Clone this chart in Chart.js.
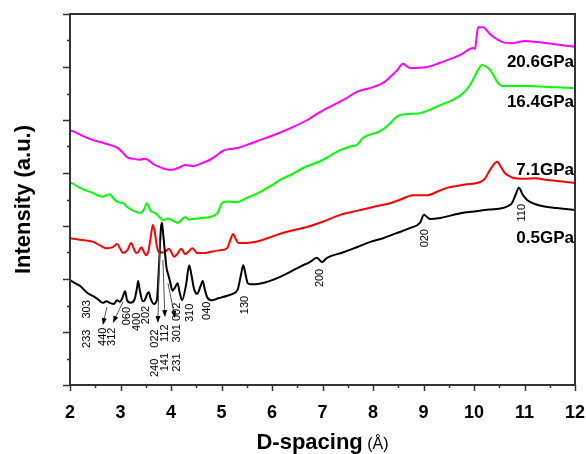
<!DOCTYPE html>
<html>
<head>
<meta charset="utf-8">
<script src="https://cdn.jsdelivr.net/npm/chart.js@4.4.0/dist/chart.umd.min.js"></script>
<style>
  html, body { margin: 0; padding: 0; background: #fff; }
  #wrap { width: 586px; height: 454px; }
</style>
</head>
<body>
<div id="wrap"><canvas id="xrd" width="586" height="454"></canvas></div>
<script>
// D-spacing (A) vs intensity (a.u., offset stacked)
const p05 = [[2.00,1.98],[2.10,1.92],[2.20,1.87],[2.34,1.74],[2.45,1.68],[2.55,1.62],[2.65,1.55],[2.72,1.58],[2.79,1.55],[2.87,1.53],
  [2.93,1.60],[2.99,1.57],[3.04,1.65],[3.09,1.77],[3.13,1.60],[3.20,1.55],[3.28,1.62],[3.33,1.85],[3.35,1.96],[3.38,1.80],
  [3.44,1.58],[3.48,1.60],[3.53,1.72],[3.56,1.75],[3.60,1.62],[3.66,1.53],[3.72,1.60],[3.76,2.20],[3.80,2.95],[3.82,3.06],
  [3.84,2.90],[3.87,2.60],[3.91,2.22],[3.94,2.10],[3.98,1.96],[4.03,1.78],[4.08,1.84],[4.13,1.92],[4.17,1.75],[4.22,1.60],
  [4.30,1.90],[4.36,2.26],[4.40,2.10],[4.46,1.80],[4.52,1.72],[4.58,1.85],[4.63,1.96],[4.67,1.80],[4.72,1.65],[4.80,1.60],
  [4.95,1.64],[5.10,1.68],[5.22,1.72],[5.32,1.80],[5.39,2.10],[5.43,2.26],[5.47,2.12],[5.52,1.92],[5.60,1.90],[5.75,1.91],
  [5.95,1.96],[6.16,2.04],[6.35,2.13],[6.55,2.23],[6.75,2.32],[6.89,2.40],[6.99,2.32],[7.09,2.40],[7.40,2.50],[7.68,2.60],
  [7.95,2.70],[8.20,2.77],[8.45,2.86],[8.73,2.96],[8.93,3.06],[9.01,3.21],[9.07,3.17],[9.13,3.13],[9.33,3.15],[9.55,3.20],
  [9.78,3.25],[10.05,3.28],[10.30,3.31],[10.57,3.34],[10.68,3.38],[10.75,3.43],[10.82,3.58],[10.89,3.72],[10.96,3.60],[11.05,3.49],
  [11.25,3.40],[11.45,3.36],[11.64,3.34],[11.82,3.32],[12.00,3.30]];

const p71 = [[2.00,2.77],[2.20,2.74],[2.46,2.70],[2.60,2.63],[2.73,2.58],[2.85,2.60],[2.93,2.66],[2.99,2.58],[3.05,2.49],[3.14,2.55],
  [3.21,2.68],[3.26,2.58],[3.31,2.49],[3.36,2.52],[3.41,2.60],[3.46,2.52],[3.50,2.45],[3.55,2.52],[3.60,2.80],[3.64,3.02],
  [3.68,2.88],[3.72,2.62],[3.76,2.51],[3.86,2.50],[3.96,2.57],[4.01,2.50],[4.06,2.42],[4.13,2.48],[4.20,2.57],[4.24,2.52],
  [4.28,2.47],[4.35,2.52],[4.42,2.58],[4.47,2.54],[4.51,2.49],[4.65,2.49],[4.77,2.51],[4.95,2.54],[5.11,2.58],[5.18,2.75],
  [5.23,2.85],[5.28,2.76],[5.33,2.68],[5.50,2.68],[5.76,2.72],[6.00,2.80],[6.30,2.89],[6.69,2.98],[7.00,3.08],[7.35,3.21],
  [7.70,3.29],[8.00,3.36],[8.34,3.43],[8.55,3.50],[8.79,3.58],[9.07,3.58],[9.30,3.66],[9.47,3.72],[9.80,3.78],[10.12,3.83],
  [10.22,3.90],[10.28,4.00],[10.38,4.15],[10.46,4.21],[10.53,4.12],[10.61,4.00],[10.70,3.94],[10.77,3.91],[11.00,3.89],[11.20,3.90],
  [11.45,3.87],[11.75,3.84],[12.00,3.81]];

const p164 = [[2.00,3.83],[2.20,3.72],[2.46,3.62],[2.65,3.55],[2.72,3.58],[2.79,3.60],[2.86,3.52],[2.95,3.45],[3.05,3.43],[3.13,3.36],
  [3.23,3.30],[3.39,3.25],[3.47,3.32],[3.52,3.43],[3.56,3.36],[3.60,3.28],[3.68,3.25],[3.76,3.18],[3.84,3.11],[3.93,3.14],
  [4.02,3.11],[4.08,3.08],[4.14,3.06],[4.21,3.12],[4.28,3.17],[4.36,3.12],[4.44,3.13],[4.60,3.15],[4.77,3.17],[4.93,3.26],
  [4.98,3.38],[5.03,3.45],[5.15,3.46],[5.31,3.45],[5.50,3.53],[5.76,3.64],[6.00,3.77],[6.16,3.87],[6.40,3.98],[6.61,4.09],
  [7.01,4.25],[7.35,4.43],[7.55,4.50],[7.68,4.53],[7.80,4.66],[8.14,4.79],[8.30,4.90],[8.40,5.00],[8.47,5.06],[8.53,5.09],
  [8.67,5.11],[8.93,5.13],[9.15,5.20],[9.33,5.28],[9.58,5.38],[9.78,5.50],[9.92,5.66],[10.00,5.80],[10.06,5.91],[10.16,6.04],
  [10.24,6.01],[10.32,5.94],[10.40,5.82],[10.46,5.72],[10.57,5.64],[10.80,5.64],[11.11,5.64],[11.30,5.63],[11.60,5.62],[12.00,5.60]];

const p206 = [[2.00,4.81],[2.10,4.77],[2.25,4.70],[2.46,4.62],[2.65,4.57],[2.79,4.53],[2.95,4.47],[3.05,4.38],[3.13,4.30],[3.25,4.27],
  [3.39,4.25],[3.46,4.27],[3.52,4.26],[3.65,4.17],[3.78,4.11],[3.90,4.07],[4.02,4.06],[4.15,4.10],[4.28,4.15],[4.44,4.13],
  [4.60,4.18],[4.77,4.25],[4.90,4.33],[5.03,4.42],[5.15,4.45],[5.31,4.47],[5.50,4.53],[5.76,4.62],[6.10,4.74],[6.42,4.87],
  [6.70,5.00],[6.95,5.15],[7.21,5.28],[7.45,5.40],[7.68,5.53],[8.00,5.62],[8.20,5.70],[8.34,5.81],[8.48,5.94],[8.59,6.06],
  [8.66,6.02],[8.73,5.98],[9.07,6.00],[9.30,6.07],[9.47,6.13],[9.75,6.24],[9.98,6.36],[10.02,6.34],[10.05,6.55],[10.08,6.75],
  [10.18,6.75],[10.28,6.66],[10.38,6.57],[10.57,6.47],[10.77,6.45],[11.01,6.49],[11.25,6.47],[11.60,6.43],[12.00,6.38]];

const seriesNames = ['0.5GPa', '7.1GPa', '16.4GPa', '20.6GPa'];
const seriesColors = ['#000000', '#ff0000', '#00ff00', '#ff00ff'];
// where each pressure label sits (right edge x, middle y)
const nameX = [11.98, 11.98, 11.98, 11.98];
const nameY = [2.77, 4.06, 5.34, 6.09];

// Miller index labels (rotated) and their anchor positions
const hklText = ['233 303', '440', '312', '060', '400', '202', '240 022', '141 112', '231 301', '002', '310', '040', '130', '200', '020', '110'];
const hklX    = [2.34, 2.65, 2.83, 3.13, 3.33, 3.50, 3.68, 3.88, 4.12, 4.12, 4.38, 4.71, 5.47, 6.95, 9.03, 10.95];
const hklY    = [1.15, 0.91, 0.91, 1.30, 1.19, 1.32, 0.60, 0.70, 0.70, 1.38, 1.36, 1.40, 1.51, 2.02, 2.77, 3.25];

// arrows: [fromX, fromY, toX, toY]
const arrows = [[2.73,1.47,2.65,1.13],[3.05,1.57,2.85,1.17],[3.78,2.74,3.74,1.17],[3.84,2.36,3.88,1.28],[3.94,1.92,4.08,1.26]];

const FONT = "'Liberation Sans', Arial, sans-serif";

const decor = {
  id: 'decor',
  afterDatasetsDraw(chart) {
    const { ctx, chartArea: a, scales: { x, y } } = chart;
    ctx.save();

    // frame
    ctx.strokeStyle = '#333';
    ctx.lineWidth = 2;
    ctx.strokeRect(a.left, a.top, a.right - a.left, a.bottom - a.top);

    // tick marks, long on whole numbers
    ctx.lineWidth = 1.5;
    ctx.beginPath();
    for (let v = 2; v <= 12.001; v += 0.5) {
      const px = Math.round(x.getPixelForValue(v)) + 0.5;
      const len = Number.isInteger(v) ? 6 : 3;
      ctx.moveTo(px, a.bottom);
      ctx.lineTo(px, a.bottom + len);
    }
    for (let v = 0; v <= 7.001; v += 0.5) {
      const py = Math.round(y.getPixelForValue(v)) + 0.5;
      const len = Number.isInteger(v) ? 7 : 3;
      ctx.moveTo(a.left, py);
      ctx.lineTo(a.left - len, py);
    }
    ctx.stroke();

    // arrows
    arrows.forEach(([x1, y1, x2, y2]) => {
      const ax = x.getPixelForValue(x1), ay = y.getPixelForValue(y1);
      const bx = x.getPixelForValue(x2), by = y.getPixelForValue(y2);
      const ang = Math.atan2(by - ay, bx - ax);
      ctx.strokeStyle = '#555';
      ctx.lineWidth = 1;
      ctx.beginPath();
      ctx.moveTo(ax, ay);
      ctx.lineTo(bx - 5 * Math.cos(ang), by - 5 * Math.sin(ang));
      ctx.stroke();
      ctx.fillStyle = '#000';
      ctx.beginPath();
      ctx.moveTo(bx, by);
      ctx.lineTo(bx - 7 * Math.cos(ang) + 2.5 * Math.sin(ang), by - 7 * Math.sin(ang) - 2.5 * Math.cos(ang));
      ctx.lineTo(bx - 7 * Math.cos(ang) - 2.5 * Math.sin(ang), by - 7 * Math.sin(ang) + 2.5 * Math.cos(ang));
      ctx.closePath();
      ctx.fill();
    });

    // hkl labels, reading upward
    ctx.fillStyle = '#000';
    ctx.font = '11px ' + FONT;
    ctx.textBaseline = 'middle';
    ctx.textAlign = 'left';
    hklText.forEach((t, i) => {
      const words = t.split(' ');
      const gap = 11;
      const total = words.reduce((s, w) => s + ctx.measureText(w).width, 0) + gap * (words.length - 1);
      ctx.save();
      ctx.translate(x.getPixelForValue(hklX[i]), y.getPixelForValue(hklY[i]));
      ctx.rotate(-Math.PI / 2);
      let off = -total / 2;
      words.forEach(w => {
        ctx.fillText(w, off, 0);
        off += ctx.measureText(w).width + gap;
      });
      ctx.restore();
    });

    // pressure labels
    ctx.font = 'bold 17px ' + FONT;
    ctx.textAlign = 'right';
    seriesNames.forEach((n, i) => {
      ctx.fillText(n, x.getPixelForValue(nameX[i]), y.getPixelForValue(nameY[i]));
    });

    // axis titles
    ctx.save();
    ctx.translate(24, (a.top + a.bottom) / 2);
    ctx.rotate(-Math.PI / 2);
    ctx.textAlign = 'center';
    ctx.font = 'bold 22px ' + FONT;
    ctx.fillText('Intensity (a.u.)', 0, 0);
    ctx.restore();

    const t1 = 'D-spacing', t2 = ' (\u00c5)';
    ctx.font = 'bold 22px ' + FONT;
    const w1 = ctx.measureText(t1).width;
    ctx.font = '16px ' + FONT;
    const w2 = ctx.measureText(t2).width;
    const sx = (a.left + a.right) / 2 - (w1 + w2) / 2;
    ctx.textAlign = 'left';
    ctx.textBaseline = 'alphabetic';
    ctx.font = 'bold 22px ' + FONT;
    ctx.fillText(t1, sx, 449);
    ctx.font = '16px ' + FONT;
    ctx.fillText(t2, sx + w1, 449);

    ctx.restore();
  }
};

const datasets = [p05, p71, p164, p206].map((pts, i) => ({
  label: seriesNames[i],
  data: pts,
  borderColor: seriesColors[i],
  backgroundColor: seriesColors[i],
  borderWidth: 2,
  pointRadius: 0,
  cubicInterpolationMode: 'monotone',
  fill: false
}));

new Chart(document.getElementById('xrd'), {
  type: 'line',
  data: { datasets: datasets },
  options: {
    responsive: false,
    animation: false,
    events: [],
    layout: { padding: { top: 14, right: 11, left: 0, bottom: 0 } },
    plugins: { legend: { display: false }, tooltip: { enabled: false } },
    scales: {
      x: {
        type: 'linear', min: 2, max: 12,
        ticks: { stepSize: 1, color: '#000', padding: 9, font: { family: FONT, size: 18, weight: 'bold' } },
        grid: { display: false },
        border: { display: false },
        afterFit(s) { s.height = 69; s.paddingLeft = 0; s.paddingRight = 0; }
      },
      y: {
        type: 'linear', min: 0, max: 7,
        ticks: { display: false, stepSize: 1 },
        grid: { display: false },
        border: { display: false },
        afterFit(s) { s.width = 70; s.paddingTop = 0; s.paddingBottom = 0; }
      }
    }
  },
  plugins: [decor]
});
</script>
</body>
</html>
